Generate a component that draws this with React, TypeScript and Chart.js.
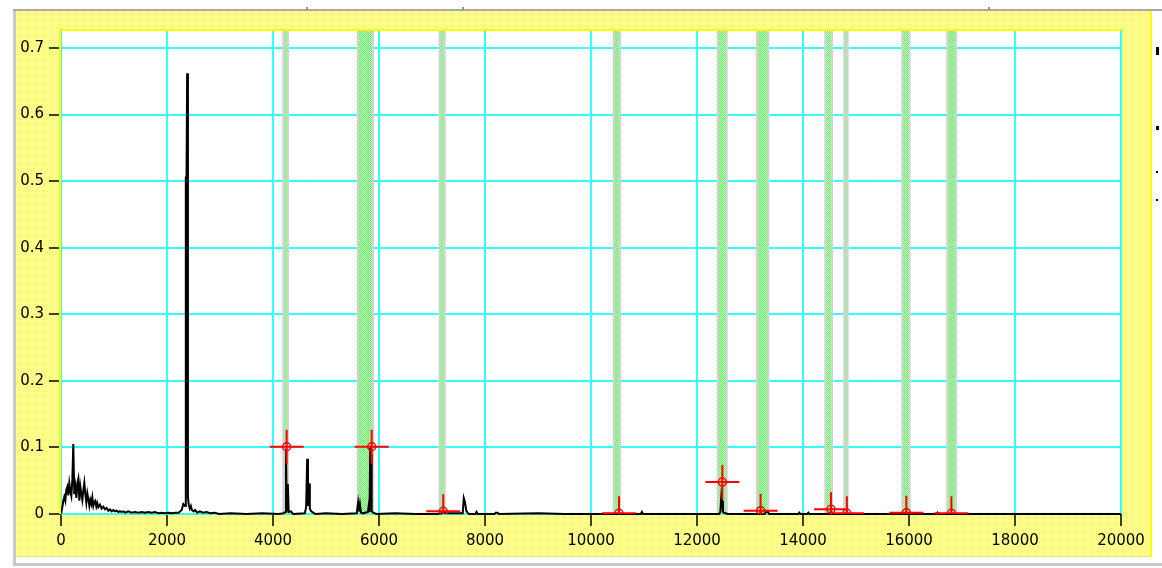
import React, { useEffect, useRef } from "react";
import { Chart, registerables } from "chart.js";

Chart.register(...registerables);

// ---- data ----
// spectrum, 0 - 5900 Hz
const lowFreq = [
  0, 25, 44, 63, 82, 100, 120, 138, 157, 176, 195, 214, 232, 250, 270, 290, 308, 327, 346, 365,
  384, 403, 421, 440, 459, 478, 497, 516, 535, 553, 572, 591, 610, 629, 648, 667, 686, 704, 736, 767,
  799, 830, 862, 893, 925, 956, 988, 1019, 1050, 1082, 1113, 1145, 1176, 1208, 1240, 1270, 1330, 1396, 1460, 1522,
  1585, 1648, 1710, 1774, 1840, 1900, 1960, 2025, 2090, 2150, 2220, 2277, 2308, 2340, 2355, 2368, 2380, 2395, 2410, 2430,
  2450, 2470, 2500, 2530, 2570, 2620, 2680, 2750, 2820, 2900, 2980, 3200, 3500, 3800, 4100, 4200, 4230, 4245, 4260, 4280,
  4296, 4340, 4380, 4600, 4625, 4645, 4660, 4680, 4695, 4720, 4760, 4800, 5000, 5300, 5580, 5605, 5620, 5640, 5660, 5700,
  5790, 5805, 5820, 5835, 5850, 5862, 5890,
];
const lowAmp = [
  0, 0.01, 0.02, 0.026, 0.02, 0.036, 0.041, 0.028, 0.046, 0.034, 0.027, 0.052, 0.105, 0.03, 0.042, 0.024, 0.046, 0.053, 0.02, 0.041,
  0.03, 0.021, 0.036, 0.047, 0.03, 0.017, 0.031, 0.022, 0.012, 0.021, 0.015, 0.025, 0.012, 0.018, 0.02, 0.011, 0.016, 0.01, 0.014, 0.008,
  0.011, 0.007, 0.009, 0.005, 0.007, 0.004, 0.006, 0.004, 0.005, 0.003, 0.004, 0.003, 0.004, 0.002, 0.003, 0.004, 0.002, 0.003, 0.002, 0.003,
  0.002, 0.003, 0.002, 0.003, 0.001, 0.002, 0.001, 0.002, 0.001, 0.002, 0.002, 0.006, 0.015, 0.012, 0.507, 0.5, 0.662, 0.025, 0.014, 0.008,
  0.012, 0.006, 0.004, 0.006, 0.002, 0.004, 0.002, 0.003, 0.001, 0.002, 0, 0.001, 0, 0.001, 0, 0.001, 0.003, 0.098, 0.004, 0.045,
  0.003, 0.004, 0, 0.001, 0.01, 0.083, 0.012, 0.046, 0.008, 0.004, 0.002, 0, 0.001, 0, 0.001, 0.017, 0.004, 0.015, 0.002, 0.001,
  0.003, 0.012, 0.003, 0.1, 0.09, 0.004, 0.002,
];
// spectrum, 5950 - 20000 Hz
const highFreq = [
  5950, 6300, 6700, 7100, 7190, 7215, 7240, 7580, 7600, 7615,
  7630, 7645, 7670, 7700, 7820, 7840, 7860, 8180, 8200, 8240,
  8260, 9000, 9500, 10000, 10510, 10530, 10550, 10940, 10960, 10980,
  12000, 12420, 12440, 12460, 12475, 12490, 12530, 12600, 13180, 13200,
  13220, 13280, 13300, 13340, 13360, 13910, 13930, 13950, 14080, 14100,
  14120, 14510, 14530, 14550, 16520, 16540, 16560, 20000,
];
const highAmp = [
  0, 0.001, 0, 0, 0.001, 0.004, 0.001, 0.001, 0.024, 0.02,
  0.014, 0.005, 0.002, 0, 0, 0.003, 0, 0, 0.002, 0.002,
  0, 0.001, 0, 0, 0, 0.001, 0, 0, 0.003, 0,
  0, 0, 0.003, 0.028, 0.02, 0.003, 0.001, 0, 0, 0.002,
  0, 0, 0.003, 0.003, 0, 0, 0.002, 0, 0, 0.002,
  0, 0, 0.005, 0, 0, 0.002, 0, 0,
];

const markerFreq = [4258, 5862, 7213, 10528, 12478, 13200, 14528, 14828, 15950, 16800];
const markerAmp = [0.101, 0.101, 0.004, 0.001, 0.048, 0.005, 0.007, 0.001, 0.002, 0.001];

const bandStart = [4176, 5579, 7125, 10409, 12371, 13113, 14402, 14760, 15855, 16705];
const bandEnd = [4302, 5906, 7258, 10566, 12579, 13364, 14565, 14862, 16030, 16905];

const xTicks = [0, 2000, 4000, 6000, 8000, 10000, 12000, 14000, 16000, 18000, 20000];
const xTickLabels = ["0", "2000", "4000", "6000", "8000", "10000", "12000", "14000", "16000", "18000", "20000"];
const yTicks = [0, 0.1, 0.2, 0.3, 0.4, 0.5, 0.6, 0.7];
const yTickLabels = ["0", "0.1", "0.2", "0.3", "0.4", "0.5", "0.6", "0.7"];

const W = 1162;
const H = 568;

function makePattern(ctx: CanvasRenderingContext2D, fg: string, bg: string, cells: number[][]) {
  const c = document.createElement("canvas");
  c.width = 2;
  c.height = 2;
  const g = c.getContext("2d")!;
  g.fillStyle = bg;
  g.fillRect(0, 0, 2, 2);
  g.fillStyle = fg;
  cells.forEach(([x, y]) => g.fillRect(x, y, 1, 1));
  return ctx.createPattern(c, "repeat")!;
}

const decorPlugin = {
  id: "decor",
  beforeDraw(chart: any) {
    const ctx: CanvasRenderingContext2D = chart.ctx;
    const ca = chart.chartArea;
    ctx.save();
    ctx.fillStyle = "#ffffff";
    ctx.fillRect(0, 0, W, H);
    // outer gray frame
    ctx.fillStyle = "#c8c8c8";
    ctx.fillRect(13, 9, 3, 556);
    ctx.fillRect(13, 563, W - 13, 3);
    ctx.fillStyle = "#a8a8a8";
    ctx.fillRect(13, 9, W - 13, 2);
    ctx.fillStyle = "#909090";
    [306, 462, 988].forEach((x) => ctx.fillRect(x, 7, 2, 3));
    // yellow dotted panel
    ctx.fillStyle = makePattern(ctx, "#ffff50", "#ffffc0", [[0, 0], [1, 1]]);
    ctx.fillRect(16, 11, 1135, 546);
    ctx.fillStyle = "#d0d060";
    for (let x = 16; x < 1151; x += 2) ctx.fillRect(x, 556, 1, 1);
    ctx.fillStyle = "#ffff00";
    ctx.fillRect(1150, 11, 2, 546);
    // cut-off legend fragments at right edge
    ctx.fillStyle = "#000000";
    ctx.fillRect(1156, 47, 3, 8);
    ctx.fillRect(1156, 126, 3, 4);
    ctx.fillRect(1156, 171, 2, 2);
    ctx.fillRect(1156, 199, 2, 2);
    // plot area
    ctx.fillStyle = "#ffffff";
    ctx.fillRect(ca.left, ca.top, ca.right - ca.left, ca.bottom - ca.top);
    ctx.restore();
  },
  beforeDatasetsDraw(chart: any) {
    const ctx: CanvasRenderingContext2D = chart.ctx;
    const ca = chart.chartArea;
    const xs = chart.scales.x;
    ctx.save();
    const green = makePattern(ctx, "#60f060", "#c8fac8", [[0, 0], [1, 1]]);
    for (let i = 0; i < bandStart.length; i++) {
      const x1 = xs.getPixelForValue(bandStart[i]);
      const x2 = xs.getPixelForValue(bandEnd[i]);
      ctx.fillStyle = "#d2d2d2";
      ctx.fillRect(x1, ca.top, x2 - x1, ca.bottom - ca.top);
      ctx.fillStyle = green;
      ctx.fillRect(x1 + 2, ca.top, Math.max(1, x2 - x1 - 4), ca.bottom - ca.top);
    }
    ctx.fillStyle = "#ffff00";
    ctx.fillRect(ca.left - 2, ca.top - 1, 2, ca.bottom - ca.top + 1);
    ctx.fillRect(ca.left - 2, ca.top - 1, ca.right - ca.left + 2, 2);
    ctx.restore();
  },
};

export default function App() {
  const ref = useRef<HTMLCanvasElement>(null);

  useEffect(() => {
    const spectrum = [
      ...lowFreq.map((f, i) => ({ x: f, y: lowAmp[i] })),
      ...highFreq.map((f, i) => ({ x: f, y: highAmp[i] })),
    ];
    const markers = markerFreq.map((f, i) => ({ x: f, y: markerAmp[i] }));
    const font = { family: "DejaVu Sans", size: 15 };
    const chart = new Chart(ref.current!, {
      type: "scatter",
      data: {
        datasets: [
          {
            data: spectrum,
            showLine: true,
            borderColor: "#000000",
            borderWidth: 2,
            pointRadius: 0,
            tension: 0,
            clip: { left: 0, top: 0, right: 0, bottom: 2 } as any,
            order: 3,
          },
          {
            data: markers,
            showLine: false,
            pointStyle: "cross",
            pointRadius: 17,
            pointHoverRadius: 17,
            pointBorderColor: "#ff0000",
            pointBorderWidth: 2,
            clip: 0 as any,
            order: 2,
          },
          {
            data: markers,
            showLine: false,
            pointStyle: "circle",
            pointRadius: 4,
            pointHoverRadius: 4,
            pointBorderColor: "#ff0000",
            pointBackgroundColor: "rgba(0,0,0,0)",
            pointBorderWidth: 1.5,
            clip: 0 as any,
            order: 1,
          },
        ],
      },
      options: {
        responsive: false,
        animation: false,
        events: [],
        layout: { padding: { left: 16, top: 30, right: 41, bottom: 10 } },
        plugins: { legend: { display: false }, tooltip: { enabled: false } },
        scales: {
          x: {
            type: "linear",
            min: 0,
            max: 20000,
            afterBuildTicks: (s: any) => {
              s.ticks = xTicks.map((v) => ({ value: v }));
            },
            afterFit: (s: any) => {
              s.height = 44;
            },
            border: { display: false },
            grid: { color: "#33ffff", lineWidth: 2, tickColor: "#000000", tickLength: 12, tickWidth: 1.5 },
            ticks: {
              color: "#000000",
              font,
              padding: 6,
              maxRotation: 0,
              autoSkip: false,
              callback: (v: any) => {
                const i = xTicks.indexOf(Number(v));
                return i >= 0 ? xTickLabels[i] : "";
              },
            },
          },
          y: {
            type: "linear",
            min: 0,
            max: 0.727,
            afterBuildTicks: (s: any) => {
              s.ticks = yTicks.map((v) => ({ value: v }));
            },
            afterFit: (s: any) => {
              s.width = 45;
            },
            border: { display: false },
            grid: { color: "#33ffff", lineWidth: 2, tickColor: "#000000", tickLength: 12, tickWidth: 1.5 },
            ticks: {
              color: "#000000",
              font,
              padding: 5,
              autoSkip: false,
              callback: (v: any) => {
                const i = yTicks.indexOf(Number(v));
                return i >= 0 ? yTickLabels[i] : "";
              },
            },
          },
        },
      },
      plugins: [decorPlugin],
    });
    return () => chart.destroy();
  }, []);

  return (
    <div style={{ position: "absolute", left: 0, top: 0, width: W, height: H }}>
      <canvas ref={ref} width={W} height={H} style={{ display: "block", width: W, height: H }} />
    </div>
  );
}
